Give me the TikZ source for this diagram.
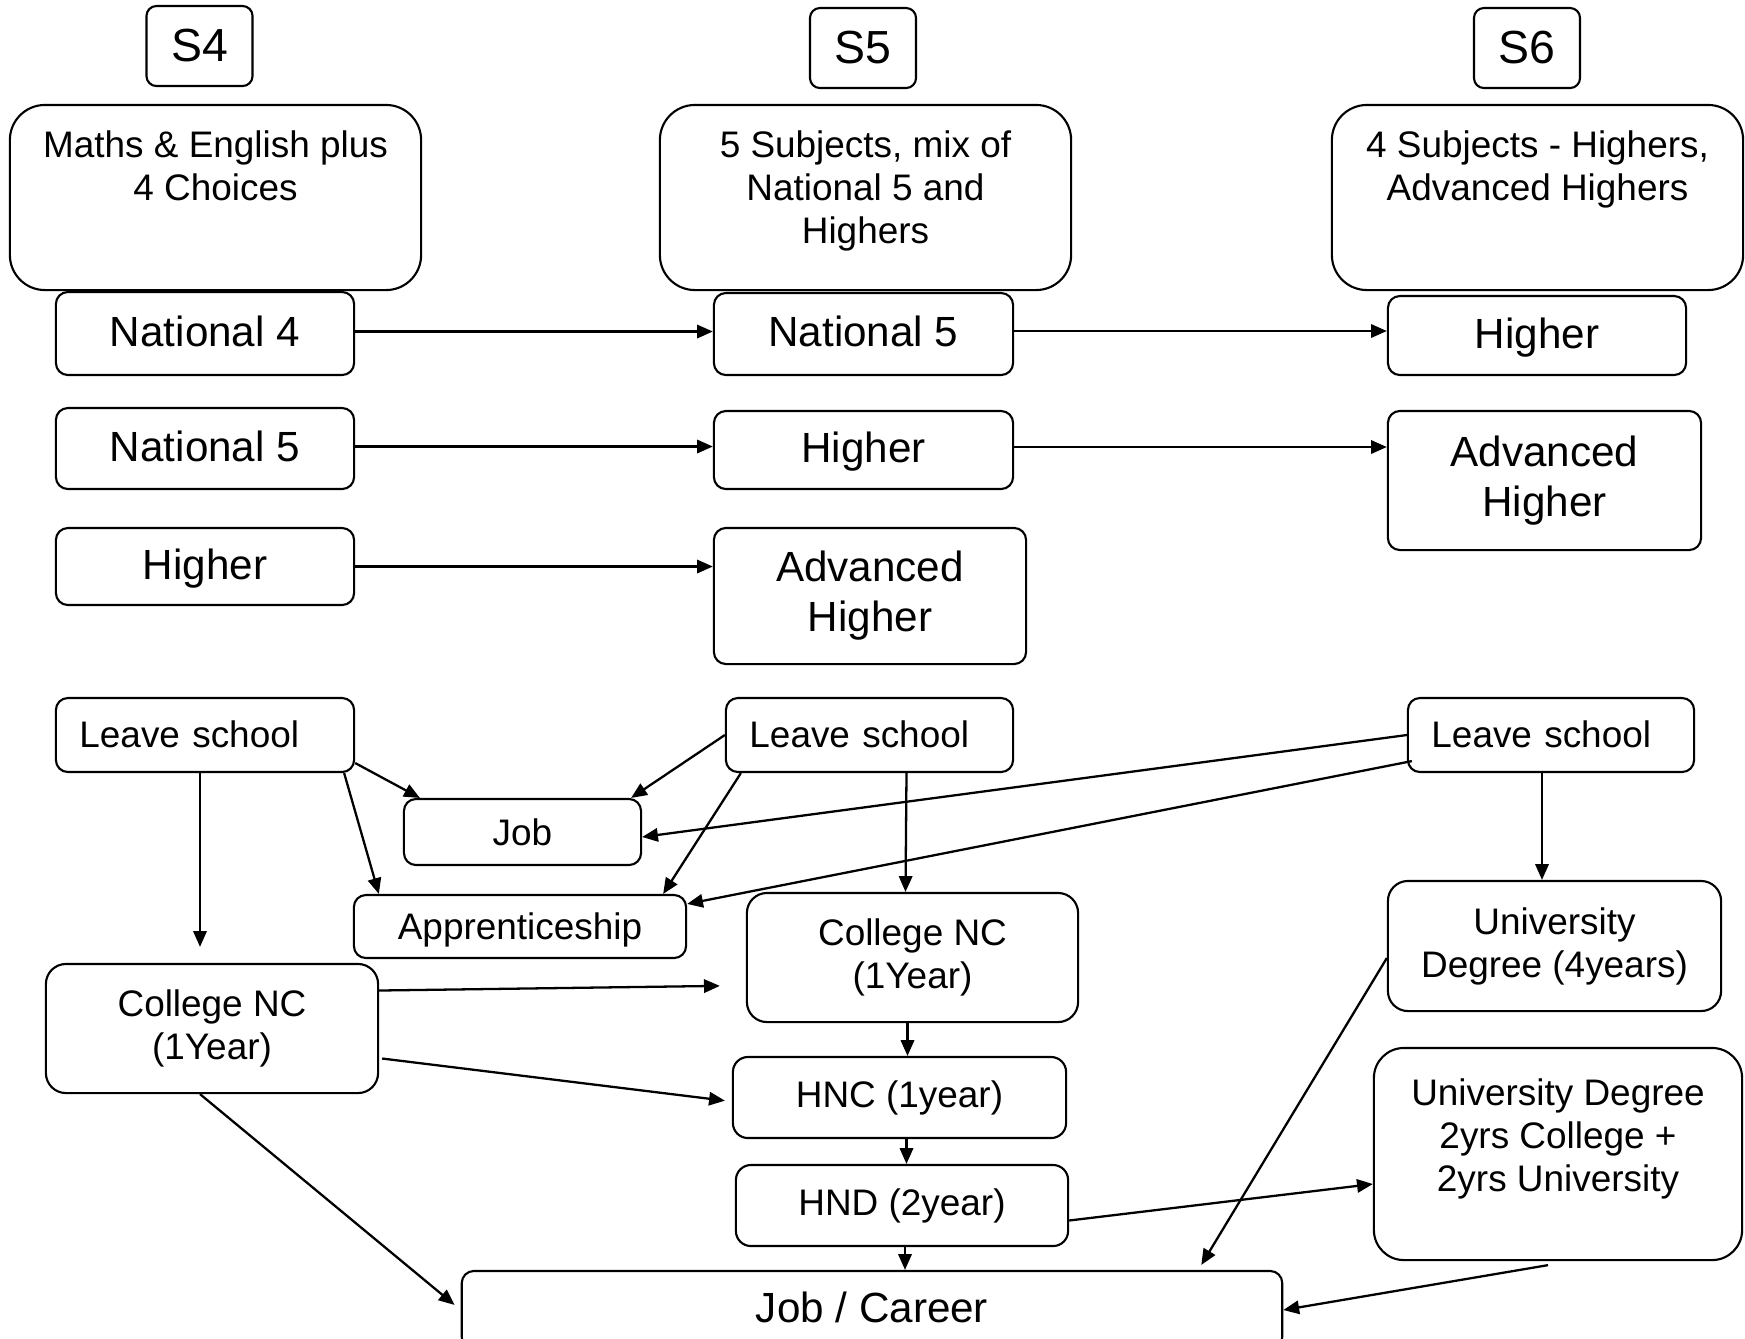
\documentclass[tikz,border=0pt]{standalone}
\usepackage{fontspec}
\setmainfont{Liberation Sans}
\usetikzlibrary{arrows.meta}
\usetikzlibrary{positioning}

\begin{document}
\begin{tikzpicture}[x=0.01cm,y=-0.01cm,>={Triangle[length=4.5pt,width=3.8pt]},
	stage/.style={draw,rounded corners=0.1cm,line width=0.6pt,inner sep=0pt,
		minimum width=1.06cm,minimum height=0.8cm,font=\fontsize{13.2}{15}\selectfont},
	desc box/.style={draw,rounded corners=0.35cm,line width=0.6pt,inner sep=0pt,
		minimum width=4.11cm,minimum height=1.85cm},
	desc text/.style={align=center,inner sep=0pt,font=\fontsize{10.5}{12.2}\selectfont},
	level/.style={draw,rounded corners=0.12cm,line width=0.6pt,inner sep=0pt,align=center,
		minimum width=2.98cm,minimum height=0.8cm,font=\fontsize{12}{14.2}\selectfont},
	route/.style={draw,rounded corners=0.15cm,line width=0.6pt,inner sep=0pt,align=center,
		font=\fontsize{10.5}{12.2}\selectfont},
	one line/.style={text height=0.72em,text depth=0pt},
	leave/.style={route,one line,rounded corners=0.12cm,align=left,inner xsep=0.235cm,minimum height=0.74cm},
	link/.style={->,line width=0.65pt}]
	
	\useasboundingbox (0,0) rectangle (1745,1338);
	\clip (0,0) rectangle (1745,1338);
	
	% years
	\node[stage] (s4) at (199.5,46) {S4};
	\node[stage] (s5) at (863,48) {S5};
	\node[stage] (s6) at (1527,48) {S6};
	
	\node[desc box] (s4desc) at (215.5,197.5) {};
	\node[desc text,below=0.26cm of s4desc.north] (s4list) {Maths \& English plus\\4 Choices};
	\node[desc box] (s5desc) at (865.5,197.5) {};
	\node[desc text,below=0.26cm of s5desc.north] (s5list) {5 Subjects, mix of\\National 5 and\\Highers};
	\node[desc box] (s6desc) at (1537.5,197.5) {};
	\node[desc text,below=0.26cm of s6desc.north] (s6list) {4 Subjects - Highers,\\Advanced Highers};
	
	% qualifications
	\node[level,one line,minimum height=0.83cm] (s4nat4) at (205,333.5) {National 4};
	\node[level,one line,minimum width=2.99cm,minimum height=0.82cm] (s5nat5) at (863.5,334) {National 5};
	\node[level,one line,minimum height=0.79cm] (s6high) at (1537,335.5) {Higher};
	\node[level,one line,minimum height=0.81cm] (s4nat5) at (205,448.5) {National 5};
	\node[level,one line,minimum width=2.99cm,minimum height=0.78cm] (s5high) at (863.5,450) {Higher};
	\node[level,minimum width=3.13cm,minimum height=1.39cm] (s6adv) at (1544.5,480.5) {Advanced\\Higher};
	\node[level,one line,minimum height=0.77cm] (s4high) at (205,566.5) {Higher};
	\node[level,minimum width=3.12cm,minimum height=1.36cm] (s5adv) at (870,596) {Advanced\\Higher};
	
	% leaving routes
	\node[leave,text width=2.51cm] (ls4) at (205,735) {Leave school};
	\node[leave,text width=2.40cm] (ls5) at (869.5,735) {Leave school};
	\node[leave,text width=2.39cm] (ls6) at (1551,735) {Leave school};
	
	\node[route,rounded corners=0.12cm,minimum width=2.37cm,minimum height=0.66cm] (job) at (522.5,832) {Job};
	\node[route,one line,rounded corners=0.12cm,minimum width=3.32cm,minimum height=0.63cm] (app) at (520,926.5) {Apprenticeship};
	\node[route,rounded corners=0.2cm,minimum width=3.31cm,minimum height=1.29cm] (cnc5) at (912.5,957.5) {College NC\\(1Year)};
	\node[route,rounded corners=0.2cm,minimum width=3.33cm,minimum height=1.3cm] (uni4) at (1554.5,946) {University\\Degree (4years)};
	\node[route,rounded corners=0.2cm,minimum width=3.32cm,minimum height=1.29cm] (cnc4) at (212,1028.5) {College NC\\(1Year)};
	\node[route,minimum width=3.33cm,minimum height=0.81cm] (hnc) at (899.5,1097.5) {HNC (1year)};
	\node[route,minimum width=3.32cm,minimum height=0.81cm] (hnd) at (902,1205.5) {HND (2year)};
	\node[route,rounded corners=0.3cm,minimum width=3.68cm,minimum height=2.12cm] (uni22) at (1558,1154) {};
	\node[desc text,below=0.31cm of uni22.north] (uni22txt) {University Degree\\2yrs College +\\2yrs University};
	\node[route,one line,rounded corners=0.12cm,minimum width=8.2cm,minimum height=0.78cm,
		font=\fontsize{12}{14}\selectfont] (career) at (872,1310) {Job / Career};
	
	\path[link]
	([shift={(0,-2)}]s4nat4.east) edge ([shift={(0,-2)}]s4nat4.east -| s5nat5.west)
	([shift={(0,-3)}]s5nat5.east) edge ([shift={(0,-3)}]s5nat5.east -| s6high.west)
	([shift={(0,-2)}]s4nat5.east) edge ([shift={(0,-2)}]s4nat5.east -| s5high.west)
	([shift={(0,-3)}]s5high.east) edge ([shift={(0,-3)}]s5high.east -| s6adv.west)
	(s4high.east) edge (s4high.east -| s5adv.west);
	
	\path[link]
	([shift={(0,28)}]ls4.east) edge ([shift={(17,0)}]job.north west)
	([shift={(-11,0)}]ls4.south east) edge ([shift={(26,0)}]app.north west)
	([shift={(-5,0)}]ls4.south) edge [shorten >=0.16cm] ([shift={(-5,0)}]ls4.south |- cnc4.north)
	(ls5.west) edge ([shift={(-11,0)}]job.north east)
	([shift={(16,0)}]ls5.south west) edge ([shift={(-24,0)}]app.north east)
	([shift={(37,0)}]ls5.south) edge ([shift={(-7,0)}]cnc5.north)
	(ls6.west) edge ([shift={(0,5)}]job.east)
	([shift={(5,-12)}]ls6.south west) edge ([shift={(0,10)}]app.north east)
	([shift={(-9,0)}]ls6.south) edge ([shift={(-9,0)}]ls6.south |- uni4.north);
	
	\path[link]
	([shift={(0,-38)}]cnc4.east) edge [shorten >=0.26cm] ([shift={(0,28)}]cnc5.west)
	([shift={(3,30)}]cnc4.east) edge [shorten >=0.07cm] ([shift={(0,4)}]hnc.west)
	([shift={(-12,0)}]cnc4.south) edge [shorten >=0.08cm] (career.west)
	([shift={(-5,0)}]cnc5.south) edge ([shift={(-5,0)}]cnc5.south |- hnc.north)
	([shift={(7,0)}]hnc.south) edge ([shift={(7,0)}]hnc.south |- hnd.north)
	([shift={(3,0)}]hnd.south) edge ([shift={(3,0)}]hnd.south |- career.north)
	([shift={(0,15)}]hnd.east) edge ([shift={(0,30)}]uni22.west)
	([shift={(0,12)}]uni4.west) edge ([shift={(-82,-5)}]career.north east)
	([shift={(-10,4)}]uni22.south) edge (career.east);
\end{tikzpicture}
\end{document}
